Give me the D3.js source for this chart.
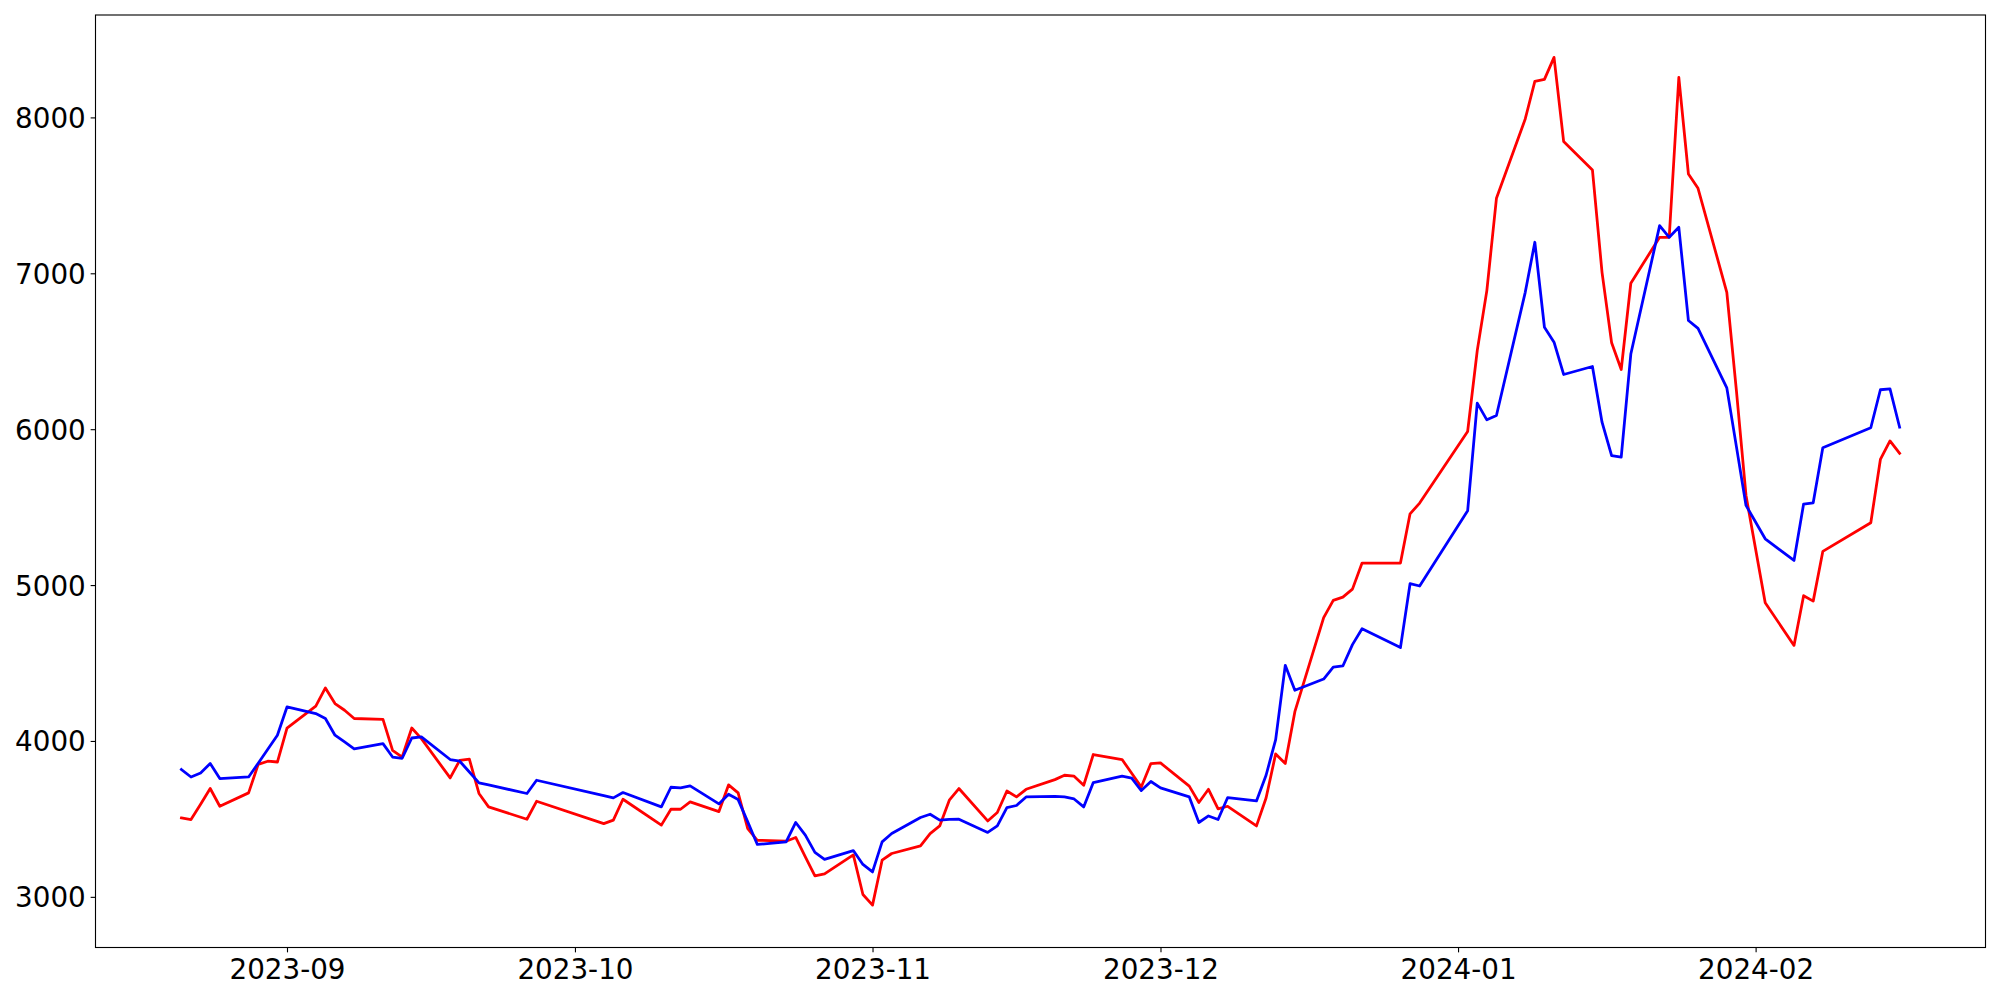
<!DOCTYPE html>
<html>
<head>
<meta charset="utf-8">
<script src="https://cdn.jsdelivr.net/npm/d3@7"></script>
<style>
  html, body { margin: 0; padding: 0; background: #ffffff; }
  svg { display: block; }
</style>
</head>
<body>
<svg id="chart" width="2000" height="1000"></svg>
<script>
// ---------------- data ----------------
const dates = [
  "2023-08-21","2023-08-22","2023-08-23","2023-08-24","2023-08-25",
  "2023-08-28","2023-08-29","2023-08-30","2023-08-31","2023-09-01",
  "2023-09-04","2023-09-05","2023-09-06","2023-09-07","2023-09-08",
  "2023-09-11","2023-09-12","2023-09-13","2023-09-14","2023-09-15",
  "2023-09-18","2023-09-19","2023-09-20","2023-09-21","2023-09-22",
  "2023-09-26","2023-09-27",
  "2023-10-04","2023-10-05","2023-10-06",
  "2023-10-10","2023-10-11","2023-10-12","2023-10-13",
  "2023-10-16","2023-10-17","2023-10-18","2023-10-19","2023-10-20",
  "2023-10-23","2023-10-24","2023-10-25","2023-10-26","2023-10-27",
  "2023-10-30","2023-10-31","2023-11-01","2023-11-02","2023-11-03",
  "2023-11-06","2023-11-07","2023-11-08","2023-11-09","2023-11-10",
  "2023-11-13","2023-11-14","2023-11-15","2023-11-16","2023-11-17",
  "2023-11-20","2023-11-21","2023-11-22","2023-11-23","2023-11-24",
  "2023-11-27","2023-11-28","2023-11-29","2023-11-30","2023-12-01",
  "2023-12-04","2023-12-05","2023-12-06","2023-12-07","2023-12-08",
  "2023-12-11","2023-12-12","2023-12-13","2023-12-14","2023-12-15",
  "2023-12-18","2023-12-19","2023-12-20","2023-12-21","2023-12-22",
  "2023-12-26","2023-12-27","2023-12-28",
  "2024-01-02","2024-01-03","2024-01-04","2024-01-05",
  "2024-01-08","2024-01-09","2024-01-10","2024-01-11","2024-01-12",
  "2024-01-15","2024-01-16","2024-01-17","2024-01-18","2024-01-19",
  "2024-01-22","2024-01-23","2024-01-24","2024-01-25","2024-01-26",
  "2024-01-29","2024-01-30","2024-01-31","2024-02-02",
  "2024-02-05","2024-02-06","2024-02-07","2024-02-08",
  "2024-02-13","2024-02-14","2024-02-15","2024-02-16"
];

const redValues = [
  3506,3496,3594,3695,3581,
  3667,3850,3870,3865,4083,
  4224,4340,4240,4197,4144,
  4139,3940,3897,4083,4015,
  3763,3876,3883,3663,3577,
  3498,3613,
  3470,3492,3626,
  3460,3562,3562,3609,
  3547,3718,3667,3438,3363,
  3357,3381,3256,3135,3147,
  3269,3015,2947,3235,3278,
  3327,3406,3455,3620,3695,
  3487,3541,3679,3641,3690,
  3752,3780,3774,3716,3913,
  3881,3793,3705,3855,3859,
  3710,3605,3690,3564,3581,
  3455,3634,3917,3855,4188,
  4791,4902,4923,4974,5141,
  5141,5457,5526,
  5985,6504,6889,7481,
  7990,8231,8244,8385,7846,
  7663,7006,6554,6383,6936,
  7231,7231,8256,7637,7545,
  6878,6248,5575,4887,
  4613,4932,4897,5216,
  5400,5806,5925,5845
];

const blueValues = [
  3817,3769,3795,3855,3759,
  3769,3857,3947,4037,4218,
  4176,4144,4037,3994,3949,
  3983,3897,3889,4019,4026,
  3881,3870,3801,3731,3718,
  3663,3748,
  3649,3635,3669,
  3577,3703,3699,3712,
  3596,3658,3624,3481,3336,
  3353,3477,3396,3285,3240,
  3297,3208,3160,3353,3406,
  3509,3530,3492,3497,3498,
  3413,3455,3573,3586,3641,
  3645,3641,3628,3577,3733,
  3774,3761,3682,3740,3699,
  3641,3477,3519,3496,3637,
  3615,3780,4009,4485,4325,
  4397,4474,4481,4618,4720,
  4599,5009,4994,
  5476,6167,6060,6088,
  6878,7199,6654,6558,6351,
  6402,6045,5831,5821,6482,
  7306,7231,7295,6697,6647,
  6265,5888,5511,5297,
  5158,5520,5528,5881,
  6009,6253,6259,6013
];

const xTickDates  = ["2023-09-01","2023-10-01","2023-11-01","2023-12-01","2024-01-01","2024-02-01"];
const xTickLabels = ["2023-09","2023-10","2023-11","2023-12","2024-01","2024-02"];
const yTicks      = [3000, 4000, 5000, 6000, 7000, 8000];

// ---------------- layout ----------------
const plot = { left: 95.5, right: 1985.5, top: 15, bottom: 947.5 };
const FONT = "'DejaVu Sans', 'Liberation Sans', sans-serif";
const FS = 27.78;
const tickLen = 4.86, tickPad = 4.86;

const parse = d3.timeParse("%Y-%m-%d");
const xs = dates.map(parse);

const svg = d3.select("#chart");

// x scale with 5% margins like matplotlib
const xMin = d3.min(xs), xMax = d3.max(xs);
const xSpan = xMax - xMin;
const x = d3.scaleTime()
  .domain([new Date(+xMin - 0.05 * xSpan), new Date(+xMax + 0.05 * xSpan)])
  .range([plot.left, plot.right]);

const allVals = redValues.concat(blueValues);
const yMin = d3.min(allVals), yMax = d3.max(allVals);
const ySpan = yMax - yMin;
const y = d3.scaleLinear()
  .domain([yMin - 0.05 * ySpan, yMax + 0.05 * ySpan])
  .range([plot.bottom, plot.top]);

svg.append("defs").append("clipPath").attr("id", "clip")
  .append("rect")
  .attr("x", plot.left).attr("y", plot.top)
  .attr("width", plot.right - plot.left).attr("height", plot.bottom - plot.top);

const line = d3.line()
  .x((d, i) => x(xs[i]))
  .y(d => y(d));

const g = svg.append("g").attr("clip-path", "url(#clip)");

g.append("path")
  .datum(redValues)
  .attr("d", line)
  .attr("fill", "none")
  .attr("stroke", "#ff0000")
  .attr("stroke-width", 2.78)
  .attr("stroke-linejoin", "round")
  .attr("stroke-linecap", "square");

g.append("path")
  .datum(blueValues)
  .attr("d", line)
  .attr("fill", "none")
  .attr("stroke", "#0000ff")
  .attr("stroke-width", 2.78)
  .attr("stroke-linejoin", "round")
  .attr("stroke-linecap", "square");

// axes
const xAxis = d3.axisBottom(x)
  .tickValues(xTickDates.map(parse))
  .tickFormat((d, i) => xTickLabels[i])
  .tickSize(tickLen)
  .tickPadding(tickPad)
  .tickSizeOuter(0);

const gx = svg.append("g")
  .attr("transform", `translate(0,${plot.bottom})`)
  .call(xAxis);
gx.select(".domain").remove();
gx.selectAll(".tick line").attr("stroke", "#000").attr("stroke-width", 1.11);
gx.selectAll(".tick text")
  .attr("fill", "#000")
  .attr("font-family", FONT)
  .attr("font-size", FS)
  .attr("dy", "0.78em");

const yAxis = d3.axisLeft(y)
  .tickValues(yTicks)
  .tickFormat(d3.format("d"))
  .tickSize(tickLen)
  .tickPadding(tickPad)
  .tickSizeOuter(0);

const gy = svg.append("g")
  .attr("transform", `translate(${plot.left},0)`)
  .call(yAxis);
gy.select(".domain").remove();
gy.selectAll(".tick line").attr("stroke", "#000").attr("stroke-width", 1.11);
gy.selectAll(".tick text")
  .attr("fill", "#000")
  .attr("font-family", FONT)
  .attr("font-size", FS)
  .attr("dy", "0.36em");

// frame (spines)
svg.append("rect")
  .attr("x", plot.left).attr("y", plot.top)
  .attr("width", plot.right - plot.left)
  .attr("height", plot.bottom - plot.top)
  .attr("fill", "none")
  .attr("stroke", "#000")
  .attr("stroke-width", 1.11);
</script>
</body>
</html>
